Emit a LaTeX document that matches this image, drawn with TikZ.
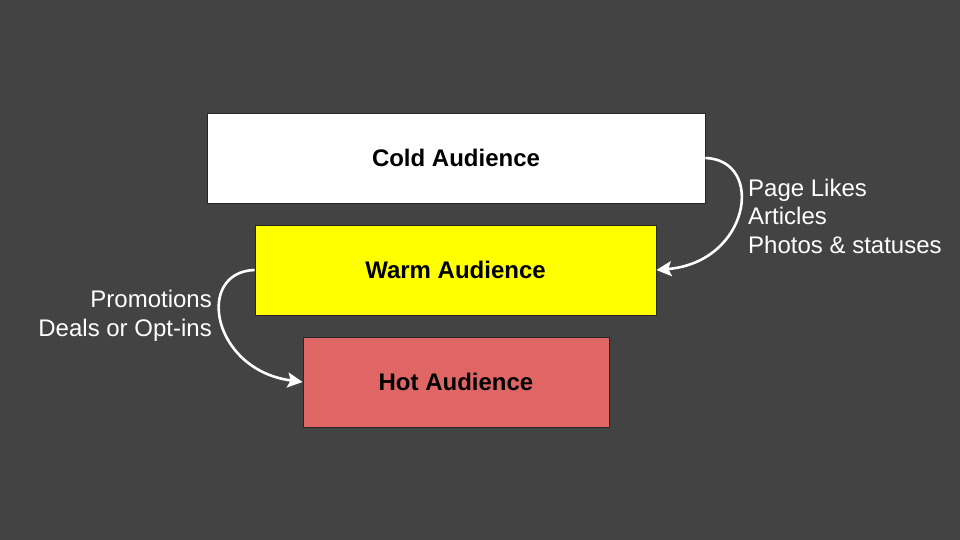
\documentclass[tikz,border=0pt]{standalone}
\usepackage{fontspec}
\setmainfont{Liberation Sans}
\usetikzlibrary{arrows.meta}
\definecolor{bg}{HTML}{434343}
\definecolor{hotred}{HTML}{E06666}
\definecolor{warmyellow}{HTML}{FFFF00}
\tikzset{
  stage/.style={draw=black!85, line width=0.8pt, minimum height=90pt, inner sep=0pt,
    font=\fontsize{24}{28}\selectfont\bfseries, text=black},
  flow/.style={draw=white, line width=2.6pt, -{Stealth[length=15pt,width=15pt,inset=3pt]}},
  lbl/.style={text=white, font=\fontsize{24}{28.5}\selectfont, inner sep=0pt}
}
\begin{document}
\begin{tikzpicture}[x=1pt,y=-1pt]
\fill[bg] (0,0) rectangle (960,540);
\useasboundingbox (0,0) rectangle (960,540);
\node[stage, fill=white, minimum width=498pt] (cold) at (456,158) {Cold Audience};
\node[stage, fill=warmyellow, minimum width=401pt] (warm) at (455.5,270) {Warm Audience};
\node[stage, fill=hotred, minimum width=306pt] (hot) at (456,382) {Hot Audience};
\node[lbl, anchor=west, align=left] (lab1) at (748,216) {Page Likes\\Articles\\Photos \& statuses};
\node[lbl, anchor=east, align=right] (lab2) at (212,316) {Promotions\\Deals or Opt-ins};
\draw[flow] (cold.east) .. controls +(60,2) and +(94,-8) .. (warm.east);
\draw[flow] (warm.west) .. controls +(-60,2) and +(-91,-12) .. (hot.west);
\end{tikzpicture}
\end{document}
